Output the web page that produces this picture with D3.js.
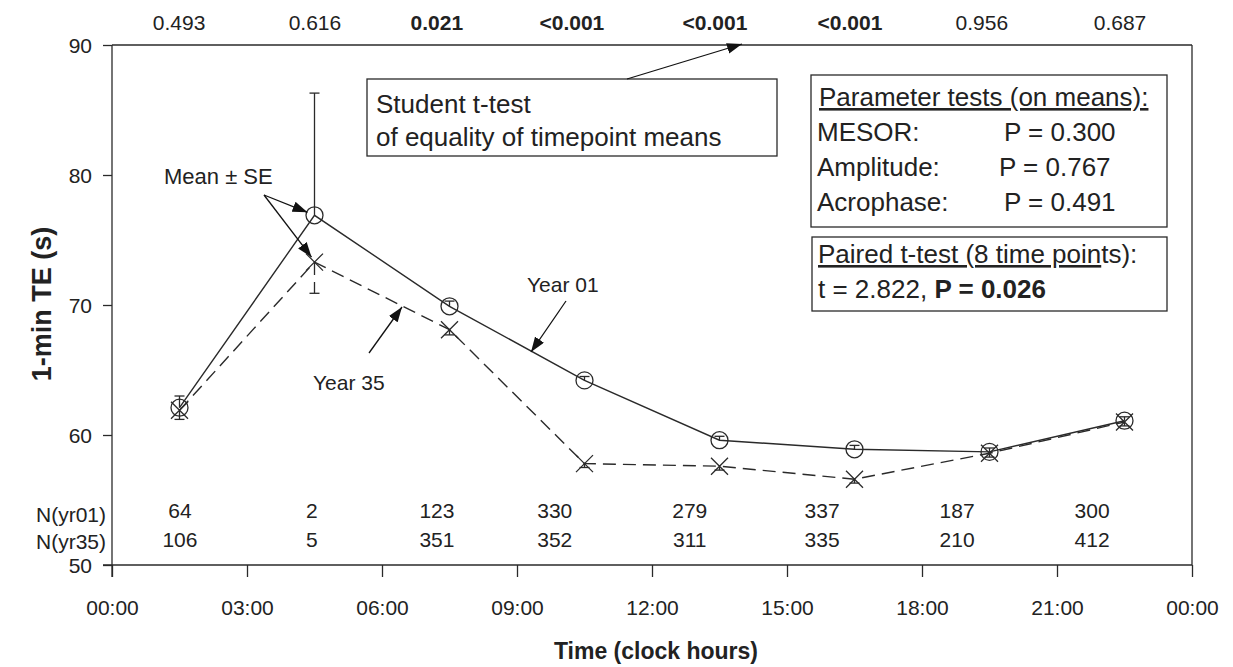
<!DOCTYPE html>
<html>
<head>
<meta charset="utf-8">
<script src="https://cdn.jsdelivr.net/npm/d3@7"></script>
<style>
  body { margin: 0; background: #fff; }
  svg { font-family: "Liberation Sans", Arial, sans-serif; }
  text { fill: #222; }
</style>
</head>
<body>
<div id="chart"></div>
<script>
// data
var hours = [1.5, 4.5, 7.5, 10.5, 13.5, 16.5, 19.5, 22.5];
var yr01 = [62.1, 76.9, 69.9, 64.2, 59.6, 58.9, 58.7, 61.1];
var se01 = [0.9, 9.4, 0.4, 0.3, 0.3, 0.3, 0.3, 0.3];
var yr35 = [61.9, 73.3, 68.1, 57.8, 57.6, 56.6, 58.6, 61.0];
var se35 = [0.7, 2.4, 0.4, 0.3, 0.3, 0.3, 0.3, 0.3];
var pValues = ["0.493", "0.616", "0.021", "<0.001", "<0.001", "<0.001", "0.956", "0.687"];
var pBold = [false, false, true, true, true, true, false, false];
var n01 = [64, 2, 123, 330, 279, 337, 187, 300];
var n35 = [106, 5, 351, 352, 311, 335, 210, 412];
var xTicks = [0, 3, 6, 9, 12, 15, 18, 21, 24];
var yTicks = [50, 60, 70, 80, 90];

// where the printed numbers sit (hours), they are not exactly under the points
var pPos = [1.49, 4.51, 7.22, 10.22, 13.4, 16.4, 19.33, 22.4];
var nPos = [1.51, 4.44, 7.22, 9.84, 12.84, 15.78, 18.78, 21.78];

var W = 1233, H = 667;
var ink = "#2a2a2a";

var svg = d3.select("#chart").append("svg")
  .attr("width", W)
  .attr("height", H);

var x = d3.scaleLinear().domain([0, 24]).range([112, 1192]);
var y = d3.scaleLinear().domain([50, 90]).range([565, 45]);

// arrow head
svg.append("defs").append("marker")
  .attr("id", "head")
  .attr("viewBox", "0 0 14 10")
  .attr("refX", 14).attr("refY", 5)
  .attr("markerWidth", 15).attr("markerHeight", 11)
  .attr("markerUnits", "userSpaceOnUse")
  .attr("orient", "auto")
  .append("path")
  .attr("d", "M0,0 L14,5 L0,10 Z")
  .attr("fill", "#111");

// frame: top line and right line
svg.append("line")
  .attr("x1", x(0)).attr("x2", x(24))
  .attr("y1", y(90)).attr("y2", y(90))
  .attr("stroke", ink).attr("stroke-width", 1.3);
svg.append("line")
  .attr("x1", x(24)).attr("x2", x(24))
  .attr("y1", y(90)).attr("y2", y(50))
  .attr("stroke", ink).attr("stroke-width", 1.3);

// axes
var xAxis = svg.append("g")
  .attr("transform", "translate(0," + y(50) + ")")
  .call(d3.axisBottom(x).tickValues(xTicks).tickSize(12).tickPadding(23)
    .tickFormat(function (d) { return d3.format("02")(d % 24) + ":00"; }));
var yAxis = svg.append("g")
  .attr("transform", "translate(" + x(0) + ",0)")
  .call(d3.axisLeft(y).tickValues(yTicks).tickSize(9).tickPadding(11));

[xAxis, yAxis].forEach(function (g) {
  g.select(".domain").attr("stroke", ink).attr("stroke-width", 1.3);
  g.selectAll(".tick line").attr("stroke", ink).attr("stroke-width", 1.3);
  g.selectAll(".tick text")
    .attr("font-size", 21)
    .attr("font-family", "Liberation Sans, Arial, sans-serif")
    .attr("fill", "#222");
});
// x-axis domain reaches out to the 50 tick
xAxis.select(".domain").attr("d", "M" + (x(0) - 9) + ",0H" + x(24));
yAxis.select(".domain").attr("d", "M0," + y(90) + "V" + (y(50) + 12));
yAxis.selectAll(".tick text").attr("dy", "0.36em");

// axis titles
svg.append("text")
  .attr("transform", "translate(51," + 304 + ") rotate(-90)")
  .attr("text-anchor", "middle")
  .attr("font-size", 27).attr("font-weight", "bold")
  .text("1-min TE (s)");
svg.append("text")
  .attr("x", 656).attr("y", 659)
  .attr("text-anchor", "middle")
  .attr("font-size", 23).attr("font-weight", "bold")
  .text("Time (clock hours)");

// series lines
var line = d3.line()
  .x(function (d) { return x(d[0]); })
  .y(function (d) { return y(d[1]); });

svg.append("path")
  .datum(d3.zip(hours, yr01))
  .attr("d", line)
  .attr("fill", "none").attr("stroke", ink).attr("stroke-width", 1.4);
svg.append("path")
  .datum(d3.zip(hours, yr35))
  .attr("d", line)
  .attr("fill", "none").attr("stroke", ink).attr("stroke-width", 1.4)
  .attr("stroke-dasharray", "13,7");

// error bars: year 01 upwards, year 35 downwards
var eb01 = svg.append("g").attr("stroke", ink).attr("stroke-width", 1.3);
hours.forEach(function (h, i) {
  eb01.append("line")
    .attr("x1", x(h)).attr("x2", x(h))
    .attr("y1", y(yr01[i])).attr("y2", y(yr01[i] + se01[i]));
  eb01.append("line")
    .attr("x1", x(h) - 5).attr("x2", x(h) + 5)
    .attr("y1", y(yr01[i] + se01[i])).attr("y2", y(yr01[i] + se01[i]));
});
var eb35 = svg.append("g").attr("stroke", ink).attr("stroke-width", 1.3);
hours.forEach(function (h, i) {
  eb35.append("line")
    .attr("x1", x(h)).attr("x2", x(h))
    .attr("y1", y(yr35[i])).attr("y2", y(yr35[i] - se35[i]))
    .attr("stroke-dasharray", se35[i] > 1 ? "13,7" : null);
  eb35.append("line")
    .attr("x1", x(h) - 5).attr("x2", x(h) + 5)
    .attr("y1", y(yr35[i] - se35[i])).attr("y2", y(yr35[i] - se35[i]));
});

// markers
svg.append("g").selectAll("circle")
  .data(hours)
  .join("circle")
  .attr("cx", function (d) { return x(d); })
  .attr("cy", function (d, i) { return y(yr01[i]); })
  .attr("r", 8.5)
  .attr("fill", "none").attr("stroke", ink).attr("stroke-width", 1.3);

svg.append("g").selectAll("path")
  .data(hours)
  .join("path")
  .attr("d", function (d, i) {
    var cx = x(d), cy = y(yr35[i]), s = 8.5;
    return "M" + (cx - s) + "," + (cy - s) + "L" + (cx + s) + "," + (cy + s) +
      "M" + (cx - s) + "," + (cy + s) + "L" + (cx + s) + "," + (cy - s);
  })
  .attr("fill", "none").attr("stroke", ink).attr("stroke-width", 1.3);

// p-values along the top
svg.append("g").selectAll("text")
  .data(pValues)
  .join("text")
  .attr("x", function (d, i) { return x(pPos[i]); })
  .attr("y", 30)
  .attr("text-anchor", "middle")
  .attr("font-size", 21)
  .attr("font-weight", function (d, i) { return pBold[i] ? "bold" : "normal"; })
  .text(function (d) { return d; });

// sample sizes
svg.append("text").attr("x", 106).attr("y", 522).attr("text-anchor", "end")
  .attr("font-size", 21).text("N(yr01)");
svg.append("text").attr("x", 106).attr("y", 549).attr("text-anchor", "end")
  .attr("font-size", 21).text("N(yr35)");
svg.append("g").selectAll("text")
  .data(n01)
  .join("text")
  .attr("x", function (d, i) { return x(nPos[i]); })
  .attr("y", 518)
  .attr("text-anchor", "middle").attr("font-size", 21)
  .text(function (d) { return d; });
svg.append("g").selectAll("text")
  .data(n35)
  .join("text")
  .attr("x", function (d, i) { return x(nPos[i]); })
  .attr("y", 547)
  .attr("text-anchor", "middle").attr("font-size", 21)
  .text(function (d) { return d; });

// annotation arrows
function arrow(x1, y1, x2, y2) {
  svg.append("line")
    .attr("x1", x1).attr("y1", y1).attr("x2", x2).attr("y2", y2)
    .attr("stroke", "#111").attr("stroke-width", 1.3)
    .attr("marker-end", "url(#head)");
}

svg.append("text").attr("x", 164).attr("y", 184).attr("font-size", 22).text("Mean ± SE");
arrow(264, 195, x(4.5) - 7, y(yr01[1]) - 3);
arrow(264, 195, x(4.5) - 3, y(yr35[1]) - 5);

svg.append("text").attr("x", 527).attr("y", 292).attr("font-size", 21).text("Year 01");
arrow(566, 301, 531, 352);

svg.append("text").attr("x", 313).attr("y", 390).attr("font-size", 21).text("Year 35");
arrow(369, 353, 402, 307);

// Student t-test box
svg.append("rect")
  .attr("x", 367).attr("y", 79).attr("width", 410).attr("height", 77)
  .attr("fill", "#fff").attr("stroke", ink).attr("stroke-width", 1.3);
svg.append("text").attr("x", 376).attr("y", 113).attr("font-size", 26).text("Student t-test");
svg.append("text").attr("x", 376).attr("y", 146).attr("font-size", 26).text("of equality of timepoint means");
arrow(627, 79, 742, 44);

// Parameter tests box
var pb = svg.append("g");
pb.append("rect")
  .attr("x", 811).attr("y", 75).attr("width", 356).attr("height", 152)
  .attr("fill", "#fff").attr("stroke", ink).attr("stroke-width", 1.3);
pb.append("text").attr("x", 819).attr("y", 106).attr("font-size", 26)
  .attr("text-decoration", "underline").text("Parameter tests (on means):");
var paramNames = ["MESOR:", "Amplitude:", "Acrophase:"];
var paramP = ["P = 0.300", "P = 0.767", "P = 0.491"];
var paramPx = [1004, 999, 1004];
paramNames.forEach(function (d, i) {
  pb.append("text").attr("x", 817).attr("y", 141 + i * 35).attr("font-size", 26).text(d);
  pb.append("text").attr("x", paramPx[i]).attr("y", 141 + i * 35).attr("font-size", 26).text(paramP[i]);
});

// Paired t-test box
var tb = svg.append("g");
tb.append("rect")
  .attr("x", 812).attr("y", 237).attr("width", 355).attr("height", 74)
  .attr("fill", "#fff").attr("stroke", ink).attr("stroke-width", 1.3);
var t1 = tb.append("text").attr("x", 818).attr("y", 263).attr("font-size", 26);
t1.append("tspan").attr("text-decoration", "underline").text("Paired t-test (8 time poin");
t1.append("tspan").text("ts):");
var t2 = tb.append("text").attr("x", 818).attr("y", 298).attr("font-size", 26);
t2.append("tspan").text("t = 2.822, ");
t2.append("tspan").attr("font-weight", "bold").text("P = 0.026");
</script>
</body>
</html>
